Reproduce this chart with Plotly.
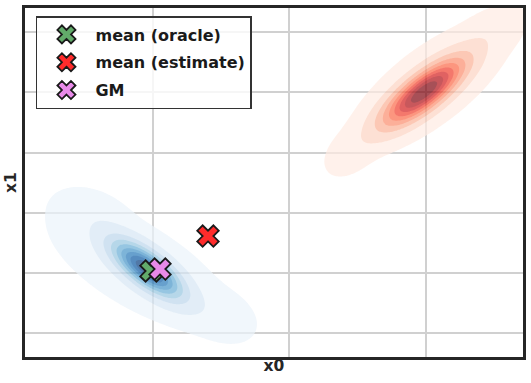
import numpy as np
import plotly.graph_objects as go

# ---------------- data (axis units) ----------------
x_grid_ticks = [0, 1, 2]
y_grid_ticks = [-1, 0, 1, 2, 3, 4]

# blue density (mixture)
blue_weight = [0.81, 0.16, 0.015, 0.015]
blue_mean_x = [-0.044, -0.110, 0.535, -0.447]
blue_mean_y = [0.058, 0.092, -0.758, 1.042]
blue_sd_x = [0.158, 0.469, 0.140, 0.155]
blue_sd_y = [0.293, 0.732, 0.255, 0.240]
blue_rho = [-0.73, -0.669, -0.27, -0.33]

# red density
red_weight = [0.81, 0.16, 0.015, 0.015]
red_mean_x = [1.985, 2.044, 1.429, 2.520]
red_mean_y = [3.008, 3.142, 1.958, 4.075]
red_sd_x = [0.185, 0.404, 0.116, 0.134]
red_sd_y = [0.347, 0.753, 0.247, 0.240]
red_rho = [0.785, 0.70, 0.38, 0.42]

# points
point_names = ["mean (oracle)", "mean (estimate)", "GM"]
point_x = [-0.015, 0.403, 0.051]
point_y = [0.025, 0.608, 0.058]

# ---------------- styles ----------------
point_colors = ["#62ab6a", "#ff2b2b", "#e88ae8"]
BLUES = ["#f7fbff", "#deebf7", "#c6dbef", "#9ecae1", "#6baed6",
         "#4292c6", "#2171b5", "#08519c", "#08306b"]
REDS = ["#fff5f0", "#fee0d2", "#fcbba1", "#fc9272", "#fb6a4a",
        "#ef3b2c", "#cb181d", "#a50f15", "#67000d"]
N_LEVELS = 10
THRESH = 0.05

X_RANGE = [-0.938, 2.711]
Y_RANGE = [-1.408, 4.408]


def hex2rgb(h):
    h = h.lstrip("#")
    return [int(h[i:i + 2], 16) for i in (0, 2, 4)]


def sample_cmap(anchors, t):
    n = len(anchors) - 1
    pos = t * n
    i = min(int(np.floor(pos)), n - 1)
    f = pos - i
    a, b = hex2rgb(anchors[i]), hex2rgb(anchors[i + 1])
    c = [round(a[k] + (b[k] - a[k]) * f) for k in range(3)]
    return "rgb(%d,%d,%d)" % tuple(c)


def mixture(X, Y, w, mx, my, sx, sy, r):
    Z = np.zeros_like(X)
    for wi, a, b, c, d, p in zip(w, mx, my, sx, sy, r):
        dx = (X - a) / c
        dy = (Y - b) / d
        q = (dx * dx - 2 * p * dx * dy + dy * dy) / (1 - p * p)
        Z += wi * np.exp(-q / 2) / (2 * np.pi * c * d * np.sqrt(1 - p * p))
    return Z


def isoprop(Z):
    flat = Z.ravel()
    order = np.argsort(flat)
    tot = flat.sum()
    cum = np.cumsum(flat[order]) / tot
    P = np.empty_like(flat)
    P[order] = cum - flat[order] / tot
    return P.reshape(Z.shape)


def band_colorscale(anchors):
    nb = N_LEVELS - 1
    cs = [[0.0, "rgba(255,255,255,0)"]]
    for k in range(1, nb + 1):
        cs.append([k / N_LEVELS, sample_cmap(anchors, (k - 0.5) / nb)])
    cs.append([1.0, sample_cmap(anchors, (nb - 0.5) / nb)])
    return cs


gx = np.linspace(-1.3, 3.1, 360)
gy = np.linspace(-2.2, 5.2, 440)
GX, GY = np.meshgrid(gx, gy)

Pb = isoprop(mixture(GX, GY, blue_weight, blue_mean_x, blue_mean_y,
                     blue_sd_x, blue_sd_y, blue_rho))
Pr = isoprop(mixture(GX, GY, red_weight, red_mean_x, red_mean_y,
                     red_sd_x, red_sd_y, red_rho))

fig = go.Figure()
for P, anchors in ((Pb, BLUES), (Pr, REDS)):
    fig.add_trace(go.Contour(
        x=gx, y=gy, z=P,
        contours=dict(start=THRESH, end=1.0, size=(1.0 - THRESH) / (N_LEVELS - 1),
                      coloring="fill", showlines=False),
        line=dict(width=0),
        colorscale=band_colorscale(anchors),
        showscale=False, opacity=0.7, hoverinfo="skip", showlegend=False,
    ))

for i, name in enumerate(point_names):
    fig.add_trace(go.Scatter(
        x=[point_x[i]], y=[point_y[i]], mode="markers", name=name,
        legendgroup=name,
        marker=dict(symbol="x", size=19, color=point_colors[i],
                    line=dict(color="#1a1a1a", width=1.8)),
    ))

axis_common = dict(showticklabels=False, ticks="", showgrid=True,
                   gridcolor="#d0d0d0", gridwidth=1.7, zeroline=False,
                   showline=True, mirror=True, linecolor="#262626",
                   linewidth=2.5, automargin=False)

fig.update_layout(
    width=531, height=383,
    margin=dict(l=25, r=8, t=8, b=26),
    paper_bgcolor="white", plot_bgcolor="white",
    font=dict(family="DejaVu Sans", color="#262626"),
    xaxis=dict(range=X_RANGE, tickvals=x_grid_ticks,
               title=dict(text="<b>x0</b>", font=dict(size=15.5), standoff=2),
               **axis_common),
    yaxis=dict(range=Y_RANGE, tickvals=y_grid_ticks,
               title=dict(text="<b>x1</b>", font=dict(size=15.5), standoff=2),
               **axis_common),
    legend=dict(x=0.022, y=0.977, xanchor="left", yanchor="top",
                bgcolor="rgba(255,255,255,0.8)", bordercolor="#333333",
                borderwidth=1.5, font=dict(size=16, weight="bold", color="#1a1a1a"),
                itemwidth=48, tracegroupgap=4),
    showlegend=True,
)

fig.write_html("out.html", config={"displayModeBar": False},
               post_script="document.body.style.margin='0';")
